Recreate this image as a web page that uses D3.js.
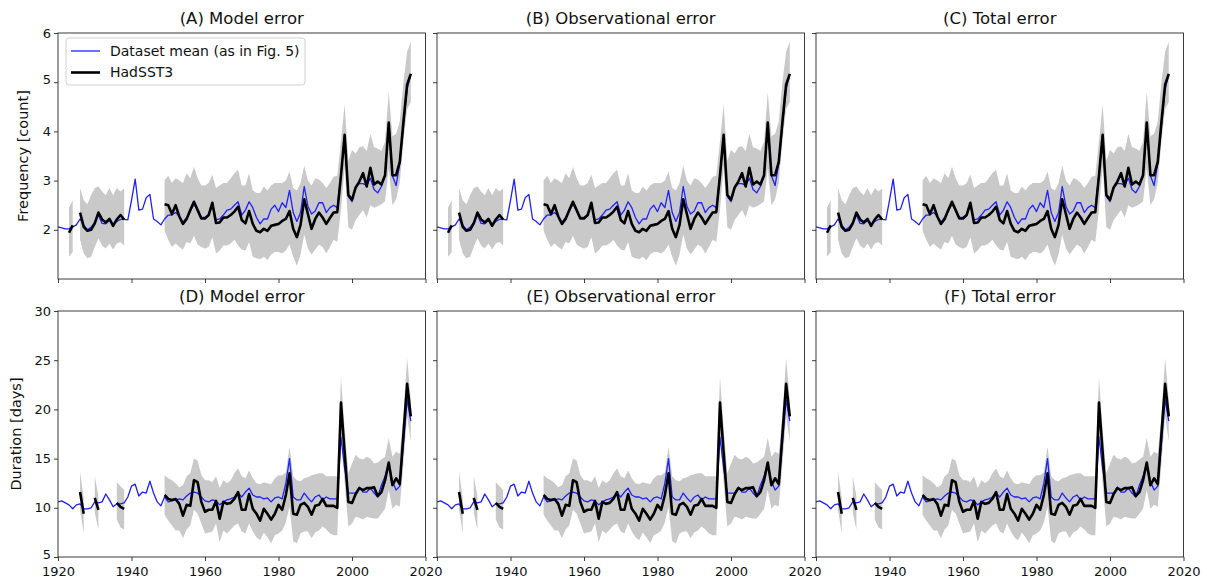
<!DOCTYPE html>
<html>
<head>
<meta charset="utf-8">
<script src="https://cdn.jsdelivr.net/npm/d3@7"></script>
<style>
  body { margin: 0; background: #ffffff; }
  svg { display: block; font-family: "DejaVu Sans", sans-serif; }
</style>
</head>
<body>
<svg id="chart" width="1207" height="583"></svg>
<script>
// ---- Data: annual marine heatwave statistics, 1920-2016 ----
const firstYear = 1920;
const lastYear = 2016;

// Frequency [count]: dataset mean (blue)
const freqMean = [
  2.06, 2.04, 2.02, 2.02, 2.06, 2.10, 2.22, 2.10, 2.00, 2.05,
  2.15, 2.30, 2.13, 2.12, 2.19, 2.12, 2.17, 2.21, 2.21, 2.20,
  2.60, 3.03, 2.40, 2.42, 2.65, 2.72, 2.22, 2.17, 2.10, 2.22,
  2.30, 2.30, 2.35, 2.28, 2.15, 2.25, 2.38, 2.52, 2.40, 2.25,
  2.25, 2.30, 2.50, 2.20, 2.22, 2.30, 2.40, 2.42, 2.50, 2.57,
  2.30, 2.40, 2.57, 2.45, 2.25, 2.12, 2.22, 2.22, 2.42, 2.50,
  2.37, 2.55, 2.45, 2.80, 2.35, 2.17, 2.35, 2.88, 2.48, 2.32,
  2.38, 2.55, 2.55, 2.35, 2.45, 2.50, 2.45, 3.15, 3.92, 2.68,
  2.57, 2.86, 2.94, 2.94, 2.90, 3.05, 2.82, 2.75, 2.88, 3.10,
  4.14, 3.10, 2.90, 3.35, 4.10, 4.87, 5.16
];
// Frequency: HadSST3 (black) and its uncertainty range (grey)
const freqHad = [
  null, null, null, 1.94, 2.09, null, 2.35, 2.06, 1.98, 2.00,
  2.13, 2.35, 2.21, 2.15, 2.22, 2.08, 2.21, 2.30, 2.21, null,
  null, null, null, null, null, null, null, null, null, 2.52,
  2.50, 2.32, 2.50, 2.27, 2.12, 2.22, 2.40, 2.57, 2.40, 2.23,
  2.23, 2.30, 2.55, 2.14, 2.15, 2.25, 2.25, 2.30, 2.37, 2.47,
  2.20, 2.13, 2.38, 2.12, 1.98, 1.95, 2.02, 1.98, 2.08, 2.10,
  2.12, 2.18, 2.22, 2.38, 2.02, 1.85, 2.10, 2.62, 2.32, 2.02,
  2.22, 2.35, 2.25, 2.12, 2.24, 2.35, 2.36, 3.10, 3.93, 2.71,
  2.61, 2.86, 2.98, 3.15, 2.88, 3.26, 2.92, 2.98, 2.92, 3.11,
  4.18, 3.11, 3.11, 3.38, 4.20, 4.95, 5.17
];
const freqUpper = [
  null, null, null, 2.45, 2.60, null, 2.85, 2.60, 2.52, 2.70,
  2.85, 2.88, 2.78, 2.70, 2.85, 2.70, 2.85, 2.78, 2.84, null,
  null, null, null, null, null, null, null, null, null, 3.00,
  3.10, 2.95, 3.05, 3.00, 2.95, 3.15, 3.05, 3.28, 3.05, 2.90,
  2.90, 2.95, 3.12, 2.85, 2.90, 2.95, 2.95, 3.05, 3.15, 3.22,
  2.90, 2.90, 3.15, 2.80, 2.75, 2.75, 2.88, 2.80, 2.90, 2.95,
  2.95, 2.95, 3.00, 3.18, 2.85, 2.80, 2.95, 3.30, 3.00, 2.90,
  3.05, 3.02, 2.95, 2.85, 2.95, 3.08, 3.10, 3.80, 4.55, 3.40,
  3.62, 3.55, 3.68, 3.70, 3.60, 3.95, 3.68, 3.65, 3.60, 3.80,
  4.80, 3.90, 3.95, 4.20, 5.00, 5.62, 5.82
];
const freqLower = [
  null, null, null, 1.45, 1.55, null, 1.80, 1.52, 1.42, 1.45,
  1.65, 1.83, 1.68, 1.62, 1.72, 1.60, 1.72, 1.75, 1.68, null,
  null, null, null, null, null, null, null, null, null, 1.98,
  1.80, 1.65, 1.72, 1.65, 1.60, 1.75, 1.72, 1.88, 1.70, 1.65,
  1.62, 1.65, 1.85, 1.52, 1.58, 1.68, 1.68, 1.72, 1.80, 1.68,
  1.60, 1.58, 1.75, 1.45, 1.42, 1.40, 1.45, 1.38, 1.50, 1.55,
  1.55, 1.52, 1.58, 1.70, 1.45, 1.27, 1.50, 1.90, 1.62, 1.50,
  1.60, 1.70, 1.65, 1.52, 1.65, 1.80, 1.75, 2.40, 3.28, 2.05,
  2.00, 2.20, 2.30, 2.40, 2.25, 2.50, 2.45, 2.48, 2.52, 2.58,
  3.25, 2.50, 2.62, 2.95, 3.80, 4.45, 4.60
];

// Duration [days]: dataset mean (blue)
const durMean = [
  10.6, 10.7, 10.5, 10.3, 9.9, 10.3, 10.4, 9.9, 9.9, 10.0,
  10.6, 10.5, 10.6, 11.4, 10.8, 10.1, 10.4, 10.4, 10.5, 11.1,
  12.2, 12.4, 11.2, 11.6, 11.5, 12.7, 11.5, 10.6, 10.2, 11.1,
  10.6, 10.7, 10.8, 10.9, 10.8, 11.2, 11.5, 11.6, 11.5, 11.1,
  10.7, 10.6, 10.8, 10.7, 10.3, 10.6, 10.8, 10.9, 11.1, 11.5,
  11.1, 11.6, 12.0, 11.3, 11.1, 11.1, 10.9, 11.0, 10.6, 11.0,
  11.1, 10.9, 12.5, 15.0, 11.1, 10.8, 10.8, 11.5, 11.0, 10.6,
  11.1, 11.3, 10.8, 11.1, 10.9, 10.9, 10.9, 17.2, 14.0, 11.5,
  11.5, 11.5, 12.1, 11.6, 11.6, 12.0, 11.5, 11.1, 12.3, 13.2,
  14.5, 12.7, 11.8, 12.2, 16.5, 21.0, 18.8
];
// Duration: HadSST3 (black) and its uncertainty range (grey)
const durHad = [
  null, null, null, null, null, null, 11.6, 9.4, null, null,
  11.0, 9.8, null, null, null, null, 10.5, 10.1, 9.9, null,
  null, null, null, null, null, null, null, null, null, 11.3,
  10.9, 10.8, 10.9, 10.4, 9.2, 10.3, 10.2, 12.8, 12.6, 10.6,
  9.6, 9.8, 9.8, 10.7, 8.9, 10.6, 10.4, 10.5, 10.9, 11.6,
  9.8, 9.8, 11.4, 9.9, 9.4, 8.7, 9.9, 9.4, 8.8, 9.4,
  10.3, 9.8, 11.3, 13.5, 9.4, 9.3, 10.3, 10.5, 10.1, 9.3,
  10.2, 10.3, 10.9, 10.2, 10.2, 10.2, 10.0, 20.7, 15.6, 10.6,
  10.5, 11.4, 12.0, 11.8, 12.0, 12.0, 12.1, 11.2, 11.6, 12.8,
  14.6, 12.3, 13.0, 12.4, 17.5, 22.6, 19.3
];
const durUpper = [
  null, null, null, null, null, null, 13.7, 11.0, null, null,
  13.2, 11.2, null, null, null, null, 12.6, 12.2, 11.8, null,
  null, null, null, null, null, null, null, null, null, 13.3,
  13.0, 12.8, 12.5, 12.1, 12.3, 13.2, 13.5, 15.0, 14.8, 13.3,
  12.8, 12.8, 12.6, 13.2, 12.0, 12.8, 12.5, 12.8, 13.5, 14.0,
  13.2, 13.0, 13.8, 13.0, 12.5, 12.4, 12.6, 12.5, 12.4, 13.0,
  13.3, 13.3, 13.6, 16.2, 13.2, 12.8, 12.7, 13.0, 13.1, 13.3,
  13.4, 13.5, 13.5, 13.2, 13.2, 13.2, 13.2, 23.3, 18.0, 13.5,
  14.5, 15.4, 15.0, 14.9, 15.2, 15.0, 14.5, 14.6, 14.9, 15.2,
  17.1, 15.2, 15.7, 15.5, 19.5, 25.2, 21.0
];
const durLower = [
  null, null, null, null, null, null, 9.8, 7.4, null, null,
  9.5, 7.8, null, null, null, null, 8.8, 8.0, 7.8, null,
  null, null, null, null, null, null, null, null, null, 9.3,
  8.7, 8.2, 7.7, 7.7, 6.9, 7.8, 8.2, 9.8, 9.4, 8.4,
  7.4, 7.5, 7.6, 8.4, 6.5, 7.7, 7.4, 7.8, 8.2, 8.4,
  7.6, 7.4, 8.4, 7.6, 7.0, 6.7, 7.5, 7.0, 6.4, 7.2,
  7.4, 7.7, 8.5, 10.1, 6.6, 6.4, 7.4, 7.6, 7.6, 6.9,
  7.5, 7.7, 8.1, 7.8, 7.4, 7.2, 7.2, 17.5, 12.5, 8.1,
  8.4, 9.1, 9.0, 8.8, 9.1, 9.0, 8.9, 8.9, 9.4, 9.9,
  11.8, 9.9, 10.3, 10.1, 14.5, 19.3, 16.7
];

// Axis ticks and labels
const xTicks = [1920, 1940, 1960, 1980, 2000, 2020];
const freqTicks = [2, 3, 4, 5, 6];
const durTicks = [5, 10, 15, 20, 25, 30];
const columnTitles = ["Model error", "Observational error", "Total error"];
const panelLetters = [["A", "B", "C"], ["D", "E", "F"]];
const legendLabels = ["Dataset mean (as in Fig. 5)", "HadSST3"];

// ---- Layout ----
const years = d3.range(firstYear, lastYear + 1);
const panelW = 367.5, gapX = 11.5, left0 = 58;
const rows = [
  { top: 33, bottom: 279, domain: [1, 6], ticks: freqTicks, label: "Frequency [count]", labelX: 23,
    mean: freqMean, had: freqHad, up: freqUpper, lo: freqLower },
  { top: 311, bottom: 557, domain: [5, 30], ticks: durTicks, label: "Duration [days]", labelX: 16,
    mean: durMean, had: durHad, up: durUpper, lo: durLower }
];

const svg = d3.select("#chart");
const blue = "#1f1fff";
const grey = "#c9c9c9";
const axisColor = "#262626";

rows.forEach((row, ri) => {
  const y = d3.scaleLinear().domain(row.domain).range([row.bottom, row.top]);
  const rec = years.map((yr, i) => ({ yr, mean: row.mean[i], had: row.had[i], up: row.up[i], lo: row.lo[i] }));

  for (let ci = 0; ci < 3; ci++) {
    const x0 = left0 + ci * (panelW + gapX);
    const x = d3.scaleLinear().domain([1920, 2020]).range([x0, x0 + panelW]);
    const clipId = `clip-${ri}-${ci}`;
    svg.append("clipPath").attr("id", clipId)
      .append("rect").attr("x", x0).attr("y", row.top)
      .attr("width", panelW).attr("height", row.bottom - row.top);

    const g = svg.append("g");
    const plot = g.append("g").attr("clip-path", `url(#${clipId})`);

    // uncertainty range
    plot.append("path")
      .datum(rec)
      .attr("fill", grey)
      .attr("stroke", "none")
      .attr("d", d3.area()
        .defined(d => d.up != null && d.lo != null)
        .x(d => x(d.yr)).y0(d => y(d.lo)).y1(d => y(d.up)));

    // dataset mean
    plot.append("path")
      .datum(rec)
      .attr("fill", "none")
      .attr("stroke", blue)
      .attr("stroke-width", 1.3)
      .attr("stroke-linejoin", "round")
      .attr("d", d3.line().defined(d => d.mean != null).x(d => x(d.yr)).y(d => y(d.mean)));

    // HadSST3
    plot.append("path")
      .datum(rec)
      .attr("fill", "none")
      .attr("stroke", "#000")
      .attr("stroke-width", 2.6)
      .attr("stroke-linejoin", "round")
      .attr("d", d3.line().defined(d => d.had != null).x(d => x(d.yr)).y(d => y(d.had)));

    // axes
    const xAxis = d3.axisBottom(x).tickValues(xTicks).tickSizeInner(4).tickSizeOuter(0).tickPadding(6)
      .tickFormat(d => (ri === 1 && (ci === 0 || d !== 1920)) ? d3.format("d")(d) : "");
    const gx = g.append("g").attr("transform", `translate(0,${row.bottom})`).call(xAxis);
    const yAxis = d3.axisLeft(y).tickValues(row.ticks).tickSizeInner(4).tickSizeOuter(0).tickPadding(3)
      .tickFormat(d => ci === 0 ? d : "");
    const gy = g.append("g").attr("transform", `translate(${x0},0)`).call(yAxis);
    [gx, gy].forEach(ax => {
      ax.select(".domain").remove();
      ax.selectAll(".tick line").attr("stroke", axisColor).attr("stroke-width", 0.9);
      ax.selectAll(".tick text").attr("fill", "#111").style("font-size", "13px")
        .style("font-family", "'DejaVu Sans', sans-serif");
    });
    // the lowest duration tick label sits just above the year labels
    gy.selectAll(".tick text").filter(d => d === 5).attr("dy", "0.1em");

    // frame
    g.append("rect")
      .attr("x", x0).attr("y", row.top)
      .attr("width", panelW).attr("height", row.bottom - row.top)
      .attr("fill", "none").attr("stroke", axisColor).attr("stroke-width", 0.9);

    // title
    g.append("text")
      .attr("x", x0 + panelW / 2)
      .attr("y", row.top - 9)
      .attr("text-anchor", "middle")
      .style("font-size", "16.5px")
      .attr("fill", "#111")
      .text(`(${panelLetters[ri][ci]}) ${columnTitles[ci]}`);
  }

  // row y label
  svg.append("text")
    .attr("transform", `translate(${row.labelX},${(row.top + row.bottom) / 2}) rotate(-90)`)
    .attr("text-anchor", "middle")
    .attr("dy", "0.35em")
    .style("font-size", "14.5px")
    .attr("fill", "#111")
    .text(row.label);
});

// ---- Legend (panel A) ----
const leg = svg.append("g");
leg.append("rect")
  .attr("x", 66).attr("y", 38).attr("width", 239).attr("height", 47)
  .attr("rx", 3).attr("fill", "#fff").attr("fill-opacity", 0.85)
  .attr("stroke", "#d0d0d0").attr("stroke-width", 1);
const legendStyles = [{ color: blue, width: 1.3 }, { color: "#000", width: 2.6 }];
legendLabels.forEach((lab, i) => {
  const ly = 51 + i * 21.5;
  leg.append("line")
    .attr("x1", 71).attr("x2", 100).attr("y1", ly).attr("y2", ly)
    .attr("stroke", legendStyles[i].color).attr("stroke-width", legendStyles[i].width);
  leg.append("text")
    .attr("x", 110).attr("y", ly).attr("dy", "0.35em")
    .style("font-size", "14px").attr("fill", "#111")
    .text(lab);
});
</script>
</body>
</html>
